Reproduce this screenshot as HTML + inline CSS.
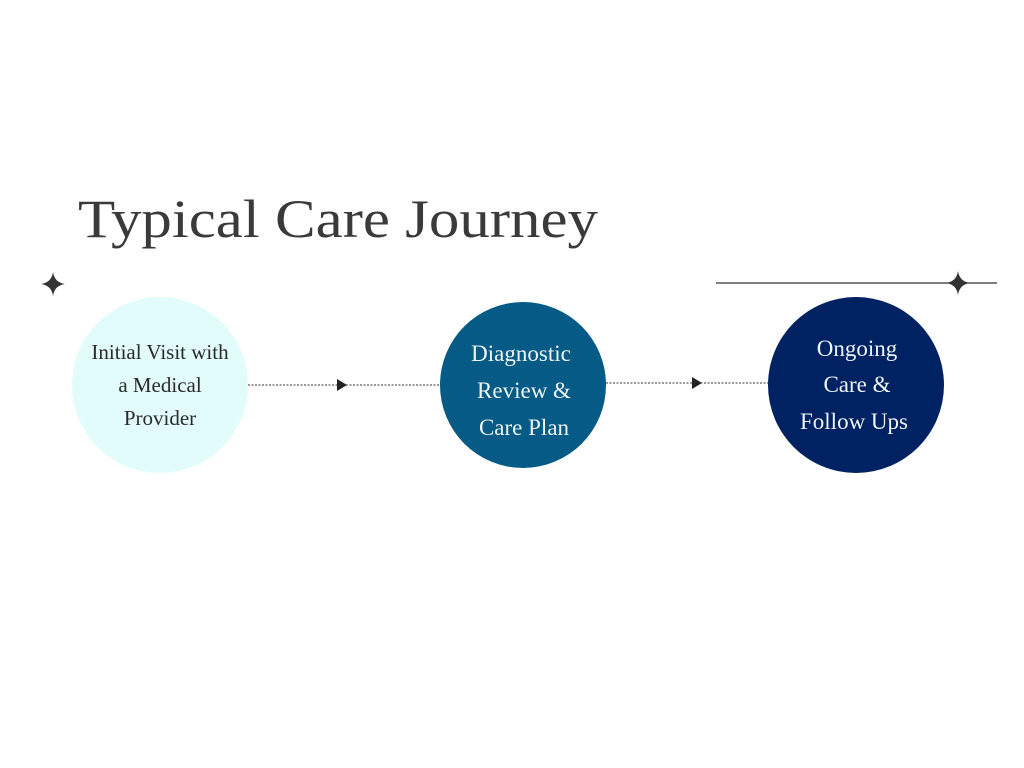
<!DOCTYPE html>
<html><head><meta charset="utf-8"><style>html,body{margin:0;padding:0;background:#fff}svg{display:block}</style></head>
<body>
<svg width="1024" height="768" viewBox="0 0 1024 768" xmlns="http://www.w3.org/2000/svg" font-family="Liberation Serif, serif">
<text x="78" y="237" font-size="54" fill="#3a3a3a" textLength="520" lengthAdjust="spacingAndGlyphs">Typical Care Journey</text>
<path d="M53 272 Q54.5 282.5 65 284 Q54.5 285.5 53 296 Q51.5 285.5 41 284 Q51.5 282.5 53 272Z" fill="#333"/>
<line x1="716" y1="283" x2="997" y2="283" stroke="#333" stroke-width="1.3"/>
<path d="M958 271 Q959.5 281.5 970 283 Q959.5 284.5 958 295 Q956.5 284.5 946 283 Q956.5 281.5 958 271Z" fill="#333"/>
<line x1="248" y1="385" x2="441" y2="385" stroke="#333" stroke-width="1" stroke-dasharray="2,1.5"/>
<path d="M337 379 L347 385 L337 391Z" fill="#222"/>
<line x1="606" y1="383" x2="768" y2="383" stroke="#333" stroke-width="1" stroke-dasharray="2,1.5"/>
<path d="M692 377 L702 383 L692 389Z" fill="#222"/>
<ellipse cx="160" cy="385" rx="88" ry="88" fill="#e2fcfc"/>
<circle cx="523" cy="385" r="83" fill="#055a86"/>
<circle cx="856" cy="385" r="88" fill="#002263"/>
<g font-size="21" text-anchor="middle" fill="#2a2a2a">
<text x="160" y="359">Initial Visit with</text>
<text x="160" y="392">a Medical</text>
<text x="160" y="425">Provider</text>
</g>
<g font-size="23" text-anchor="middle" fill="#eef6f6">
<text x="521" y="361">Diagnostic</text>
<text x="524" y="398">Review &amp;</text>
<text x="524" y="435">Care Plan</text>
<text x="857" y="356">Ongoing</text>
<text x="857" y="392">Care &amp;</text>
<text x="854" y="429">Follow Ups</text>
</g>
</svg>
</body></html>
